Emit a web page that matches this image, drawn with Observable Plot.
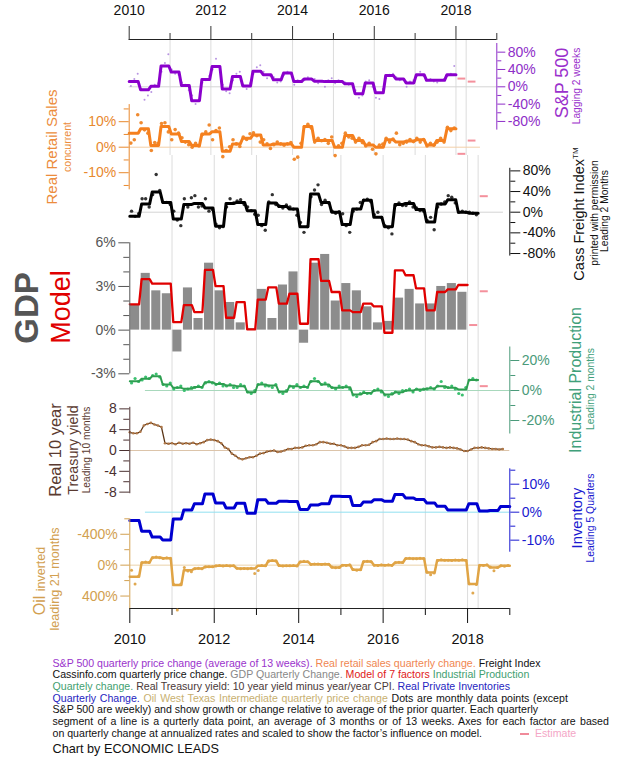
<!DOCTYPE html>
<html><head><meta charset="utf-8">
<script src="https://cdn.jsdelivr.net/npm/d3@7"></script>
<script src="https://cdn.jsdelivr.net/npm/@observablehq/plot@0.6"></script>
<style>
body{margin:0;background:#fff;}
#chart{position:relative;width:640px;height:766px;overflow:hidden;font-family:"Liberation Sans",Arial,sans-serif;background:#fff;}
#chart svg{position:absolute;left:0;top:0;}
.lab{position:absolute;white-space:nowrap;transform:translate(-50%,-50%) rotate(-90deg);line-height:1;}
#cap{position:absolute;left:52.5px;top:657.5px;font-size:10.6px;line-height:11.67px;white-space:nowrap;color:#111;}
</style></head><body><div id="chart"></div><script>
// ---------------- data ----------------
const majorYears = [2010, 2012, 2014, 2016, 2018];
const minorYears = [2011, 2013, 2015, 2017, 2019];
const gridYears = [2011, 2012, 2013, 2014, 2015, 2016, 2017, 2018, 2018.25];

// S&P 500 quarterly change (%), 2010Q1..2017Q4, and dots
const spQ = [12,-7,1,48, 34,3,-32,17, 47,-5,24,2, 36,28,16,32, 12,18,13,12, 12,7,-16,9, -14,26,18,9, 28,15,15,28];
const spDots = [2,18,30, -5,-30,-20, -12,5,8, 35,55,75,
  40,30,28, 10,5,-8, -20,-40,-30, 10,15,25,
  40,65,45, 5,-10,-15, 15,30,35, 5,-5,8,
  30,45,50, 35,20,25, 22,10,12, 28,35,30,
  5,15,12, 15,22,18, 18,8,12, 0,15,20,
  8,15,12, 10,5,6, -8,-25,-20, 12,15,0,
  -25,-28,-5, 20,28,30, 22,15,18, 0,12,15,
  25,35,25, 15,18,12, 10,15,18, 25,30,48];
const spEst = [{q: 2018.0, v: 19}, {q: 2018.25, v: 12}];

// Real retail sales quarterly change (%)
const retailQ = [5.5,7.2,0.7,8.1, 5.2,2.2,0.7,5.2, 6.1,-1.6,1.3,3.5, 4.8,0.9,1.3,1.3, 0,8.1,2.6,2.6, 0,4.6,2.6,0.9, 0,2.9,2.0,2.4, 2.9,0.9,2.6,7.2];
const retailDots = [1.6,2.9,12.7, 9.6,6.8,5.5, -1.3,1.8,1.5, 9.3,9.6,6.0,
  2.9,6.9,5.5, 3.7,2.0,1.0, 0.0,1.5,0.5, 5.0,6.0,8.7,
  2.9,6.5,7.5, -3.7,-1.3,0.2, 2.9,1.3,0.3, 4.0,3.0,5.3,
  5.6,4.5,2.0, 2.9,1.3,-0.5, 1.0,2.0,1.3, 0.8,1.3,1.8,
  -4.7,-3.9,1.5, 8.0,9.0,7.5, 2.0,3.5,2.5, 3.0,1.5,4.0,
  -3.3,0.5,1.5, 5.5,4.0,3.5, 2.0,3.5,1.8, 0.5,1.5,-0.8,
  -2.6,0.8,1.2, 3.5,2.0,3.2, 5.5,1.0,1.5, 2.0,3.0,2.2,
  3.5,2.0,3.0, 0.5,1.5,0.8, 2.0,3.5,2.0, 7.8,6.5,7.5];
const retailEst = [{q: 2018.0, v: -2.6}, {q: 2018.25, v: 2.6}];

// Cass Freight Index quarterly change (%), 2010Q1..2018Q1
const cassQ = [-8,16,39,19, -13,15,17,8, -27,17,19,3, -24,18,11,6, -28,35,19,0, -24,6,23,-10, -28,15,17,5, -19,16,24,0, -2];
const cassDots = [2,-8,-3, 26,26,10, 34,73,42, 19,19,15,
  2,-15,-26, 26,10,28, 32,10,12, 26,2,5,
  -23,-30,-28, 10,26,18, 22,24,15, 10,3,-4,
  -6,-26,-35, 20,34,15, 12,8,14, 10,6,-6,
  -20,-39,-28, 30,43,53, 15,23,18, 2,-2,1,
  -3,-26,-39, 2,6,19, 23,25,20, -5,0,-10,
  -26,-30,-42, 13,18,13, 13,20,10, 8,3,2,
  -16,-10,-34, 10,16,20, 32,29,18, 0,2,0,
  0,-2,-5];
const cassEst = [{q: 2018.25, v: 31}];

// GDP quarterly change (%) and model
const gdpQ = [1.7,3.9,2.7,2.5, -1.5,2.9,0.8,4.6, 2.7,1.9,0.5,0.1, 2.8,0.8,3.1,4.0, -0.9,4.6,5.2,2.0, 3.2,2.7,1.6,0.5, 0.6,2.2,2.8,1.8, 1.8,3.0,3.2,2.6];
const modelQ = [1.77,3.5,3.2,3.2, 0.55,1.72,1.24,4.14, 3.03,0.85,1.93,0.05, 2.1,2.94,1.82,2.5, 0.44,4.87,3.38,2.62, 1.36,1.24,1.82,1.63, -0.18,4.11,3.77,2.87, 1.36,2.62,2.8,3.1];
const gdpEst = [{q: 2018.0, v: 0.35}, {q: 2018.25, v: 2.67}];

// Industrial production quarterly change (%)
const ipQ = [6.2,7.8,9.5,4.0, 1.8,1.1,2.4,5.5, 4.4,3.3,2.9,-1.1, 4.0,3.3,-0.9,2.9, 2.4,6.2,4.0,1.8, 2.2,-2.7,-1.6,0, -2.7,-1.1,0,0.7, 1.3,2.9,1.8,0.7, 7.0];
const ipDots = [5,8,6, 7,9,8, 10,11,9, 4,3,5,
  1,2,3, 0,1,2, 2,3,2, 5,6,5,
  4,5,3, 3,4,2, 2,4,3, -1,-2,0,
  4,5,3, 3,2,4, -1,-2,0, 3,2,4,
  2,3,2, 6,8,6, 4,5,3, 2,1,3,
  2,3,1, -3,-4,-2, -1,-2,-2, 0,1,-1,
  -3,-4,-2, -1,-2,0, 0,1,-1, 1,0,1,
  1,2,1, 3,6,2, 2,3,1, -2,-3,2,
  7,8,7];
const ipEst = [{q: 2018.25, v: 2.9}];

// Real 10 year treasury yield, monthly from Jan 2010
const treasury = [3.5,3.3,3.3,3.6,4.8,5.1,5.3,5.0,4.8,4.5,1.4,1.3,
  1.4,1.2,1.5,1.3,1.4,1.3,1.5,1.2,1.4,1.6,2.0,2.1,
  2.0,1.8,1.4,0.6,0.3,-0.6,-1.0,-1.5,-1.7,-1.5,-1.3,-1.3,
  -1.0,-0.6,-0.5,-0.2,-0.1,0.0,-0.3,-0.2,0.0,0.3,0.3,0.5,
  0.5,0.6,0.9,1.0,1.0,1.2,1.6,1.6,1.5,1.3,1.3,1.0,
  1.0,0.8,0.5,0.5,0.5,0.7,1.0,1.0,1.1,1.6,1.8,2.2,
  2.2,2.3,2.2,2.2,2.3,2.2,2.2,2.1,1.8,1.6,1.2,1.0,
  1.0,0.8,0.6,0.6,0.7,0.6,0.5,0.6,0.5,0.4,0.2,-0.1,
  -0.1,0.2,0.5,0.5,0.6,0.5,0.4,0.3,0.3,0.2,0.3];

// Real private inventories quarterly change (%), 2010Q1..2018Q4
const invQ = [-3.0,-6.8,-8.9,-9.9, -2.4,0.8,3.0,6.5, 3.3,1.5,3.2,-0.4, 4.4,3.2,3.9,3.8, 1.0,2.6,3.0,5.7, 5.6,2.4,3.6,4.4, 3.9,6.3,5.1,4.5, 3.3,2.1,0.8,0.8, 3.0,0.4,0.6,2.0];

// Oil WTI quarterly price change (%), inverted axis
const oilQ = [150,-34,-99,-90, 258,65,43,22, 9,9,43,43, 9,-56,9,9, -45,-13,-13,30, 0,60,-47,0, 0,-34,-86,-86, 95,-64,-64,-64, 245,0,30,9];
const oilDots = [65,245,140, -30,-40,-35, -95,-105,-95, -85,-95,-90,
  250,580,245, 30,75,85, 45,40,45, 25,20,22,
  10,5,12, 5,12,8, 40,48,42, 45,40,107,
  70,5,9, -50,-60,-55, 5,12,9, 9,5,12,
  -40,-50,-45, -10,-15,-15, -10,-15,-12, 25,35,30,
  0,5,-5, 55,65,60, -45,-50,-45, 0,5,-5,
  0,-5,5, -30,-38,-35, -85,-90,-82, -82,-90,-86,
  90,124,100, -60,-70,-64, -64,-60,-68, -64,-70,-60,
  240,361,250, 0,5,-5, 25,73,30, 9,15,5];

// ---------------- helpers ----------------
const TOP = [128.7, 496.3], BOT = [129.3, 509.3];
const FONT = "Liberation Sans, Arial, sans-serif";
function stepLine(vals, start = 2010, d = 0.03) {
  const pts = [];
  vals.forEach((v, i) => {
    const a = start + i / 4, b = a + 0.25;
    pts.push({x: i === 0 ? a : a + d, y: v}, {x: i === vals.length - 1 ? b : b - d, y: v});
  });
  return pts;
}
const monthly = (vals, start = 2010, off = 0.5) => vals.map((v, i) => ({t: start + (i + off) / 12, v}));
const quarters = (vals, start = 2010) => vals.map((v, i) => ({t: start + i / 4, v}));
function layer(xr, yopt, marks, color, extra = {}) {
  return Plot.plot({
    width: 640, height: 766,
    marginLeft: xr[0], marginRight: 640 - xr[1], marginTop: extra.mt ?? 0, marginBottom: extra.mb ?? 0,
    x: {domain: [2010, 2019], range: xr, axis: null},
    y: {...yopt, axis: null},
    style: {background: "transparent", overflow: "visible", color: color, fontSize: (extra.fs ?? 14) + "px", fontFamily: FONT},
    marks
  });
}
function yAxis(anchor, major, minor, fmt, big, small) {
  return [
    Plot.axisY({anchor, ticks: major, tickSize: big, tickPadding: 3, tickFormat: fmt, label: null}),
    Plot.axisY({anchor, ticks: minor, tickSize: small, tickFormat: () => "", label: null})
  ];
}
const pct = d => String(d) + "%";
const EST = "#f4909c";
const estMark = (arr) => Plot.ruleY(arr, {y: "v", x1: d => d.q + 0.05, x2: d => d.q + 0.24, stroke: EST, strokeWidth: 2});

const chart = document.getElementById("chart");
const layers = [];
const ident = {domain: [0, 766], range: [0, 766]};

// grid + axes (top scale region and bottom scale region)
layers.push(layer(TOP, ident, [
  Plot.ruleX(gridYears, {y1: () => 39, y2: () => 155, stroke: "#dcdcdc"}),
  Plot.ruleY([39], {x1: () => 2010, x2: () => 2019, stroke: "#222"}),
  Plot.axisX({anchor: "top", ticks: majorYears, tickSize: 14, tickPadding: 11, tickFormat: d => String(d), label: null, stroke: "#333"}),
  Plot.axisX({anchor: "top", ticks: minorYears, tickSize: 7, tickFormat: () => "", label: null, stroke: "#333"})
], "#111", {mt: 39}));
layers.push(layer(BOT, ident, [
  Plot.ruleX(gridYears, {y1: () => 155, y2: () => 608, stroke: "#dcdcdc"}),
  Plot.ruleY([608], {x1: () => 2010, x2: () => 2019, stroke: "#222"}),
  Plot.axisX({anchor: "bottom", ticks: majorYears, tickSize: 15, tickPadding: 10, tickFormat: d => String(d), label: null}),
  Plot.axisX({anchor: "bottom", ticks: minorYears, tickSize: 7, tickFormat: () => "", label: null})
], "#111", {mb: 158, fs: 14.5}));

// S&P 500
layers.push(layer(TOP, {domain: [-100, 100], range: [129.6, 43]}, [
  Plot.ruleY([0], {x1: () => 2010, x2: () => 2019, stroke: "#d4d4d4"}),
  Plot.dot(monthly(spDots), {x: "t", y: "v", r: 1, fill: "#a070d8", fillOpacity: 0.75}),
  Plot.line(stepLine(spQ), {x: "x", y: "y", stroke: "#8a00cc", strokeWidth: 3}),
  estMark(spEst),
  Plot.ruleX([2019], {y1: () => -100, y2: () => 100, stroke: "currentColor"}),
  ...yAxis("right", [-80, -40, 0, 40, 80], [-60, -20, 20, 60], pct, 8, 4)
], "#8e2ec8"));

// Retail
layers.push(layer(TOP, {domain: [-16.7, 16.7], range: [189.3, 104.1]}, [
  Plot.ruleY([0], {x1: () => 2010, x2: () => 2018.6, stroke: "#f2cfa8"}),
  Plot.dot(monthly(retailDots), {x: "t", y: "v", r: 1.8, fill: "#f08a30"}),
  Plot.line(stepLine(retailQ), {x: "x", y: "y", stroke: "#f5801e", strokeWidth: 3}),
  estMark(retailEst),
  Plot.ruleX([2010], {y1: () => -16.7, y2: () => 16.7, stroke: "currentColor"}),
  ...yAxis("left", [-10, 0, 10], [-15, -5, 5, 15], pct, 10, 5)
], "#e8892e"));

// Cass
layers.push(layer(BOT, {domain: [-85, 85], range: [255.6, 167.8]}, [
  Plot.ruleY([0], {x1: () => 2010, x2: () => 2018.85, stroke: "#d4d4d4"}),
  Plot.dot(monthly(cassDots), {x: "t", y: "v", r: 1.7, fill: "#333"}),
  Plot.line(stepLine(cassQ), {x: "x", y: "y", stroke: "#000", strokeWidth: 3}),
  estMark(cassEst),
  Plot.ruleX([2019], {y1: () => -85, y2: () => 85, stroke: "currentColor"}),
  ...yAxis("right", [-80, -40, 0, 40, 80], [-60, -20, 20, 60], pct, 10, 5)
], "#111"));

// GDP + model
layers.push(layer(BOT, {domain: [-3, 6], range: [373.3, 242.3]}, [
  Plot.rect(quarters(gdpQ), {x1: d => d.t + 0.02, x2: d => d.t + 0.235, y1: () => 0, y2: "v", fill: "#8c8c8c"}),
  Plot.line(stepLine(modelQ), {x: "x", y: "y", stroke: "#e00000", strokeWidth: 2.3}),
  estMark(gdpEst),
  Plot.ruleX([2010], {y1: () => -3, y2: () => 6, stroke: "currentColor"}),
  ...yAxis("left", [-3, 0, 3, 6], [-2, -1, 1, 2, 4, 5], pct, 11, 6)
], "#555"));

// Industrial production
layers.push(layer(BOT, {domain: [-29, 29], range: [433.5, 346.5]}, [
  Plot.ruleY([0], {x1: () => 2010.37, x2: () => 2019, stroke: "#a8d8bc"}),
  Plot.dot(monthly(ipDots), {x: "t", y: "v", r: 1.6, fill: "#3cc070"}),
  Plot.line(stepLine(ipQ), {x: "x", y: "y", stroke: "#2e9e50", strokeWidth: 2}),
  estMark(ipEst),
  Plot.ruleX([2019], {y1: () => -29, y2: () => 29, stroke: "currentColor"}),
  ...yAxis("right", [-20, 0, 20], [-10, 10], pct, 9, 5)
], "#4a9a7a"));

// Treasury
layers.push(layer(BOT, {domain: [-8.3, 8.3], range: [493.2, 406.8]}, [
  Plot.ruleY([0], {x1: () => 2010, x2: () => 2019, stroke: "#dcc4aa"}),
  Plot.line(monthly(treasury, 2010, 0), {x: "t", y: "v", stroke: "#5a3416", strokeWidth: 1.3}),
  Plot.dot(monthly(treasury, 2010, 0), {x: "t", y: "v", r: 1.3, fill: "#b07848"}),
  Plot.ruleX([2010], {y1: () => -8.3, y2: () => 8.3, stroke: "currentColor"}),
  ...yAxis("left", [-8, -4, 0, 4, 8], [-6, -2, 2, 6], d => String(d), 10, 6)
], "#4a3030"));

// Inventory
layers.push(layer(BOT, {domain: [-14.3, 15.5], range: [551.7, 468.3]}, [
  Plot.ruleY([0], {x1: () => 2010.37, x2: () => 2019, stroke: "#90e0f0"}),
  Plot.line(stepLine(invQ), {x: "x", y: "y", stroke: "#0000d0", strokeWidth: 3}),
  Plot.ruleX([2019], {y1: () => -14.3, y2: () => 15.5, stroke: "currentColor"}),
  ...yAxis("right", [-10, 0, 10], [-5, 5, 15], pct, 9, 5)
], "#1a1ad0"));

// Oil (inverted)
layers.push(layer(BOT, {domain: [-600, 565], range: [518.3, 608.3]}, [
  Plot.ruleY([0], {x1: () => 2010, x2: () => 2019, stroke: "#ead2aa"}),
  Plot.dot(monthly(oilDots), {x: "t", y: "v", r: 1.5, fill: "#e0a850"}),
  Plot.line(stepLine(oilQ), {x: "x", y: "y", stroke: "#e0a445", strokeWidth: 2.5}),
  Plot.ruleX([2010], {y1: () => -600, y2: () => 565, stroke: "currentColor"}),
  ...yAxis("left", [-400, 0, 400], [-600, -200, 200], pct, 9, 5)
], "#d2a050"));

layers.forEach(s => chart.appendChild(s));

// ---------------- labels ----------------
function lab(html, cx, cy, size, color, weight) {
  const d = document.createElement("div");
  d.className = "lab";
  d.innerHTML = html;
  d.style.left = cx + "px"; d.style.top = cy + "px";
  d.style.fontSize = size + "px"; d.style.color = color;
  if (weight) d.style.fontWeight = weight;
  chart.appendChild(d);
}
lab("S&amp;P 500", 561.7, 82.5, 18, "#9a30cc");
lab("Lagging 2 weeks", 576.5, 86, 10.2, "#9a30cc");
lab("Real Retail Sales", 51, 146.5, 15, "#ec8c3c");
lab("concurrent", 66.5, 147, 10.6, "#ec8c3c");
lab('Cass Freight Index<sup style="font-size:8px">TM</sup>', 579, 214, 14.5, "#111");
lab("printed with permission", 594.5, 212.5, 10.3, "#111");
lab("Leading 2 Months", 605, 211, 10.3, "#111");
lab("GDP", 26, 307.5, 33, "#555", "bold");
lab("Model", 61, 306.5, 27, "#e00000");
lab("Industrial Production", 576, 380, 16, "#40a07a");
lab("Leading 2 months", 591, 389, 10.3, "#40a07a");
lab("Real 10 year", 55, 449.5, 16.5, "#5a3a30");
lab("Treasury yield", 72.5, 450, 14.3, "#5a3a30");
lab("Leading 10 months", 86.5, 449.5, 10.2, "#5a3a30");
lab("Inventory", 576.5, 517.5, 14.8, "#1a1ad0");
lab("Leading 5 Quarters", 590.5, 518, 10.4, "#1a1ad0");
lab('<span style="font-size:16px">Oil</span> <span style="font-size:12.5px">inverted</span>', 40, 581, 16, "#d2a050");
lab("leading 21 months", 55, 578.5, 12.6, "#d2a050");

// ---------------- caption ----------------
const cap = document.createElement("div");
cap.id = "cap";
cap.innerHTML =
  '<span style="color:#9a33cc">S&amp;P 500 quarterly price change (average of 13 weeks).</span><span style="color:#f08650"> Real retail sales quarterly change.</span> Freight Index<br>' +
  'Cassinfo.com quarterly price change.<span style="color:#888"> GDP Quarterly Change.</span><span style="color:#e02020"> Model of 7 factors</span><span style="color:#3fa070"> Industrial Production</span><br>' +
  '<span style="color:#3fa070">Quartely change.</span><span style="color:#4a3838"> Real Treasury yield: 10 year yield minus year/year CPI.</span><span style="color:#2525c0"> Real Private Inventories</span><br>' +
  '<span style="word-spacing:0.75px"><span style="color:#2525c0">Quarterly Change.</span><span style="color:#c8b070"> Oil West Texas Intermediate quarterly price change</span> Dots are monthly data points (except</span><br>' +
  'S&amp;P 500 are weekly) and show growth or change relative to average of the prior quarter. Each quarterly<br>' +
  '<span style="word-spacing:1.3px">segment of a line is a qurterly data point, an average of 3 months or of 13 weeks. Axes for each factor are based</span><br>' +
  'on quarterly change at annualized rates and scaled to show the factor\u2019s influence on model.';
chart.appendChild(cap);
const dash = document.createElement("div");
dash.style.cssText = "position:absolute;left:520px;top:732.5px;width:9px;height:2px;background:#f08a9a;";
chart.appendChild(dash);
const estT = document.createElement("div");
estT.style.cssText = "position:absolute;left:535px;top:727px;font-size:10.6px;line-height:12px;color:#f4a6c6;white-space:nowrap;";
estT.textContent = "Estimate";
chart.appendChild(estT);
const by = document.createElement("div");
by.style.cssText = "position:absolute;left:52.5px;top:741.5px;font-size:12.7px;line-height:15px;color:#111;white-space:nowrap;";
by.textContent = "Chart by ECONOMIC LEADS";
chart.appendChild(by);
</script></body></html>
